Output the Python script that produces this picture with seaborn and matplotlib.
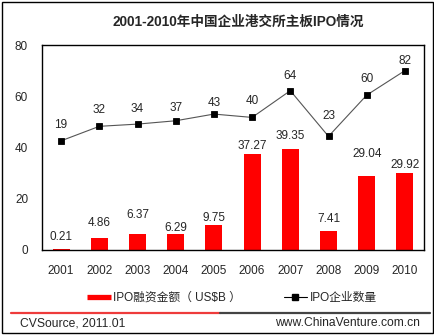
import numpy as np
import pandas as pd
import matplotlib
matplotlib.use("Agg")
import matplotlib.pyplot as plt
from matplotlib.lines import Line2D
from matplotlib.patches import Rectangle
import seaborn as sns

# Data
years = ["2001", "2002", "2003", "2004", "2005", "2006", "2007", "2008", "2009", "2010"]
ipo_amount = [0.21, 4.86, 6.37, 6.29, 9.75, 37.27, 39.35, 7.41, 29.04, 29.92]
ipo_count = [19, 32, 34, 37, 43, 40, 64, 23, 60, 82]
y_ticks = [0, 20, 40, 60, 80]

title = "2001-2010年中国企业港交所主板IPO情况"
bar_label = "IPO融资金额（ US$B ）"
line_label = "IPO企业数量"
source_text = "CVSource, 2011.01"
site_text = "www.ChinaVenture.com.cn"

# label offsets above marks (pixels)
bar_offsets = [12, 15, 19, 6, 7, 8, 13, 12, 22, 8]
line_offsets = [16, 16, 15, 13, 11, 16, 15, 20, 16, 10]

sns.set_style("white")
FONT = ["Liberation Sans", "Noto Sans CJK SC", "DejaVu Sans"]
plt.rcParams["font.family"] = FONT

df = pd.DataFrame({"year": years, "amount": ipo_amount, "count": ipo_count})

W, H = 435, 335
fig = plt.figure(figsize=(W / 100, H / 100), dpi=100)
ax = fig.add_axes([42 / W, 1 - 250 / H, (424 - 42) / W, (250 - 45) / H])

sns.barplot(data=df, x="year", y="amount", color="#FF0000", saturation=1,
            width=0.44, ax=ax, linewidth=0)
ax.set_ylim(0, 80)
ax.set_xlim(-0.5, len(years) - 0.5)
ax.set_yticks(y_ticks)
ax.set_xlabel("")
ax.set_ylabel("")
ax.tick_params(axis="both", length=0, labelsize=8.5)
ax.tick_params(axis="x", pad=11)
ax.tick_params(axis="y", pad=10)
for s in ax.spines.values():
    s.set_visible(True)
    s.set_color("black")
    s.set_linewidth(1)

for i, v in enumerate(ipo_amount):
    ax.annotate(f"{v:.2f}", (i, v), xytext=(0, bar_offsets[i]), textcoords="offset pixels",
                ha="center", va="center", fontsize=8.5)

ax2 = ax.twinx()
sns.pointplot(data=df, x="year", y="count", color="black", markers="s",
              linestyles="-", ax=ax2, markersize=4.3, linewidth=0.8)
for ln in ax2.lines:
    ln.set_color("#555555")
    ln.set_markerfacecolor("black")
    ln.set_markeredgecolor("black")
ax2.set_ylim(-79, 105)
ax2.set_xlim(-0.5, len(years) - 0.5)
ax2.set_yticks([])
ax2.set_ylabel("")
ax2.set_xlabel("")
for s in ax2.spines.values():
    s.set_visible(False)

for i, v in enumerate(ipo_count):
    ax2.annotate(f"{v}", (i, v), xytext=(0, line_offsets[i]), textcoords="offset pixels",
                 ha="center", va="center", fontsize=8.5)

fig.text(238 / W, 1 - 22 / H, title, ha="center", va="center", fontsize=9.8,
         fontweight="bold", family=["Liberation Sans", "Noto Sans CJK SC"])

handles = [Line2D([], [], color="#FF0000", linewidth=3.8, solid_capstyle="butt"),
           Line2D([], [], color="black", linewidth=0.8, marker="s", markersize=4.3)]
fig.legend(handles, [bar_label, line_label], loc="center", ncol=2,
           bbox_to_anchor=(232 / W, 1 - 298 / H), frameon=False,
           handlelength=2.0, handletextpad=0.2, columnspacing=3.6,
           prop={"family": FONT, "size": 8.5})

# footer rule and texts
fig.add_artist(Line2D([11 / W, 220 / W], [1 - 313 / H, 1 - 313 / H], color="#EE3B3B",
                      linewidth=1.6, transform=fig.transFigure))
fig.add_artist(Line2D([220 / W, 430 / W], [1 - 313 / H, 1 - 313 / H], color="#444444",
                      linewidth=1.6, transform=fig.transFigure))
fig.text(20 / W, 1 - 323 / H, source_text, ha="left", va="center", fontsize=8.7)
fig.text(420 / W, 1 - 323 / H, site_text, ha="right", va="center", fontsize=8.7)

# outer frame
fig.add_artist(Rectangle((2 / W, 2 / H), (433 - 2) / W, (333 - 2) / H, fill=False,
                         edgecolor="black", linewidth=1, transform=fig.transFigure))

fig.savefig("out.png", dpi=100)
